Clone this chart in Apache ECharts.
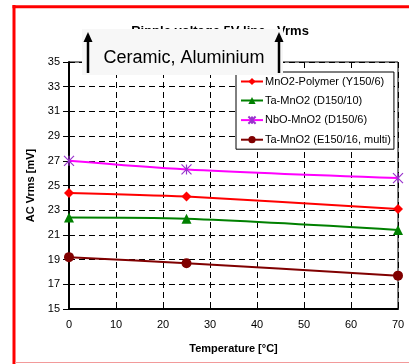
<!DOCTYPE html>
<html>
<head>
<meta charset="utf-8">
<script src="https://cdn.jsdelivr.net/npm/echarts@6/dist/echarts.min.js"></script>
<style>
  html, body { margin: 0; padding: 0; background: #fff; }
  #chart { width: 409px; height: 364px; }
</style>
</head>
<body>
<div id="chart"></div>
<script>
// Temperatures at which the ripple was measured (°C)
const temperatures = [0, 25, 70];

// AC ripple (mV rms) per capacitor type
const seriesNames = [
  'MnO2-Polymer (Y150/6)',
  'Ta-MnO2 (D150/10)',
  'NbO-MnO2 (D150/6)',
  'Ta-MnO2 (E150/16, multi)'
];
const mnO2Polymer = [24.4, 24.1, 23.1];
const taMnO2D = [22.4, 22.3, 21.4];
const nbOMnO2 = [27.0, 26.3, 25.6];
const taMnO2E = [19.2, 18.7, 17.7];

const yTicks = { min: 15, max: 35, step: 2 };
const xTicks = { min: 0, max: 70, step: 10 };

const titleText = 'Ripple voltage 5V line - Vrms';
const noteText = 'Ceramic, Aluminium';
const xName = 'Temperature [°C]';
const yName = 'AC Vrms [mV]';

const pair = vals => temperatures.map((t, i) => [t, vals[i]]);

const FONT = 'Liberation Sans, Arial, sans-serif';
const dash = [6, 4];

const chart = echarts.init(document.getElementById('chart'), null, { renderer: 'canvas' });

const asterisk = 'path://M0,0L10,10M10,0L0,10M5,0L5,10';

function arrow(x, yTip, yEnd) {
  return [
    {
      type: 'line', z: 101,
      shape: { x1: x, y1: yTip + 6, x2: x, y2: yEnd },
      style: { stroke: '#000', lineWidth: 2.5 }
    },
    {
      type: 'polygon', z: 101,
      shape: { points: [[x, yTip], [x - 4.5, yTip + 10], [x + 4.5, yTip + 10]] },
      style: { fill: '#000' }
    }
  ];
}

chart.setOption({
  backgroundColor: '#fff',
  animation: false,
  title: {
    text: titleText,
    left: 215,
    textAlign: 'center',
    top: 20,
    textStyle: { fontFamily: FONT, fontSize: 13, fontWeight: 'bold', color: '#000' }
  },
  grid: {
    left: 69, right: 11, top: 62, bottom: 55,
    show: true, borderColor: '#000', borderWidth: 1, backgroundColor: 'transparent'
  },
  legend: {
    orient: 'vertical',
    left: 236, top: 72,
    backgroundColor: '#fff',
    borderColor: '#000', borderWidth: 1, borderRadius: 0,
    padding: [4, 3, 4, 4],
    itemGap: 8,
    itemWidth: 22, itemHeight: 9,
    textStyle: { fontFamily: FONT, fontSize: 11, color: '#000', padding: [0, 0, 0, -3] },
    data: seriesNames
  },
  xAxis: {
    type: 'value',
    min: xTicks.min, max: xTicks.max, interval: xTicks.step,
    name: xName,
    nameLocation: 'middle',
    nameGap: 34,
    nameTextStyle: { fontFamily: FONT, fontSize: 11, fontWeight: 'bold', color: '#000' },
    axisLine: { show: true, onZero: false, lineStyle: { color: '#000', width: 2 } },
    axisTick: { show: false },
    axisLabel: { fontFamily: FONT, fontSize: 11, color: '#000', margin: 10 },
    splitLine: { show: true, lineStyle: { color: '#000', width: 1, type: dash } }
  },
  yAxis: {
    type: 'value',
    min: yTicks.min, max: yTicks.max, interval: yTicks.step,
    name: yName,
    nameLocation: 'middle',
    nameGap: 23,
    nameTextStyle: { fontFamily: FONT, fontSize: 11, fontWeight: 'bold', color: '#000' },
    axisLine: { show: true, onZero: false, lineStyle: { color: '#000', width: 2 } },
    axisTick: { show: true, inside: false, length: 6, lineStyle: { color: '#000', width: 1 } },
    axisLabel: { fontFamily: FONT, fontSize: 11, color: '#000', margin: 9 },
    splitLine: { show: true, lineStyle: { color: '#000', width: 1, type: dash } }
  },
  series: [
    {
      name: seriesNames[0], type: 'line', data: pair(mnO2Polymer),
      smooth: 0.3, symbol: 'diamond', symbolSize: 10,
      lineStyle: { color: '#ff0000', width: 2 },
      itemStyle: { color: '#ff0000' }
    },
    {
      name: seriesNames[1], type: 'line', data: pair(taMnO2D),
      smooth: 0.3, symbol: 'triangle', symbolSize: 10,
      lineStyle: { color: '#008000', width: 2 },
      itemStyle: { color: '#008000' }
    },
    {
      name: seriesNames[2], type: 'line', data: pair(nbOMnO2),
      smooth: 0.3, symbol: asterisk, symbolSize: 10,
      lineStyle: { color: '#ff00ff', width: 2 },
      itemStyle: { color: 'none', borderColor: '#9933cc', borderWidth: 1.2 }
    },
    {
      name: seriesNames[3], type: 'line', data: pair(taMnO2E),
      smooth: 0.3, symbol: 'circle', symbolSize: 10,
      lineStyle: { color: '#800000', width: 2 },
      itemStyle: { color: '#800000' }
    }
  ],
  graphic: [
    // note box partly covering the title
    {
      type: 'rect', z: 100,
      shape: { x: 82, y: 29, width: 201, height: 46 },
      style: { fill: '#f7f7f7' }
    },
    {
      type: 'text', z: 101,
      x: 184, y: 58,
      style: {
        text: noteText, fill: '#000',
        font: '18px ' + FONT,
        align: 'center', verticalAlign: 'middle'
      }
    },
    ...arrow(88, 32, 73),
    ...arrow(279, 32, 73),
    // red frame
    {
      type: 'line', z: 102,
      shape: { x1: 14, y1: 5, x2: 14, y2: 364 },
      style: { stroke: '#ff0000', lineWidth: 3 }
    },
    {
      type: 'line', z: 102,
      shape: { x1: 12.5, y1: 6.8, x2: 409, y2: 6.8 },
      style: { stroke: '#ff0000', lineWidth: 3 }
    },
    {
      type: 'line', z: 102,
      shape: { x1: 15, y1: 362.5, x2: 409, y2: 362.5 },
      style: { stroke: '#f29a9a', lineWidth: 1 }
    }
  ]
});
</script>
</body>
</html>
